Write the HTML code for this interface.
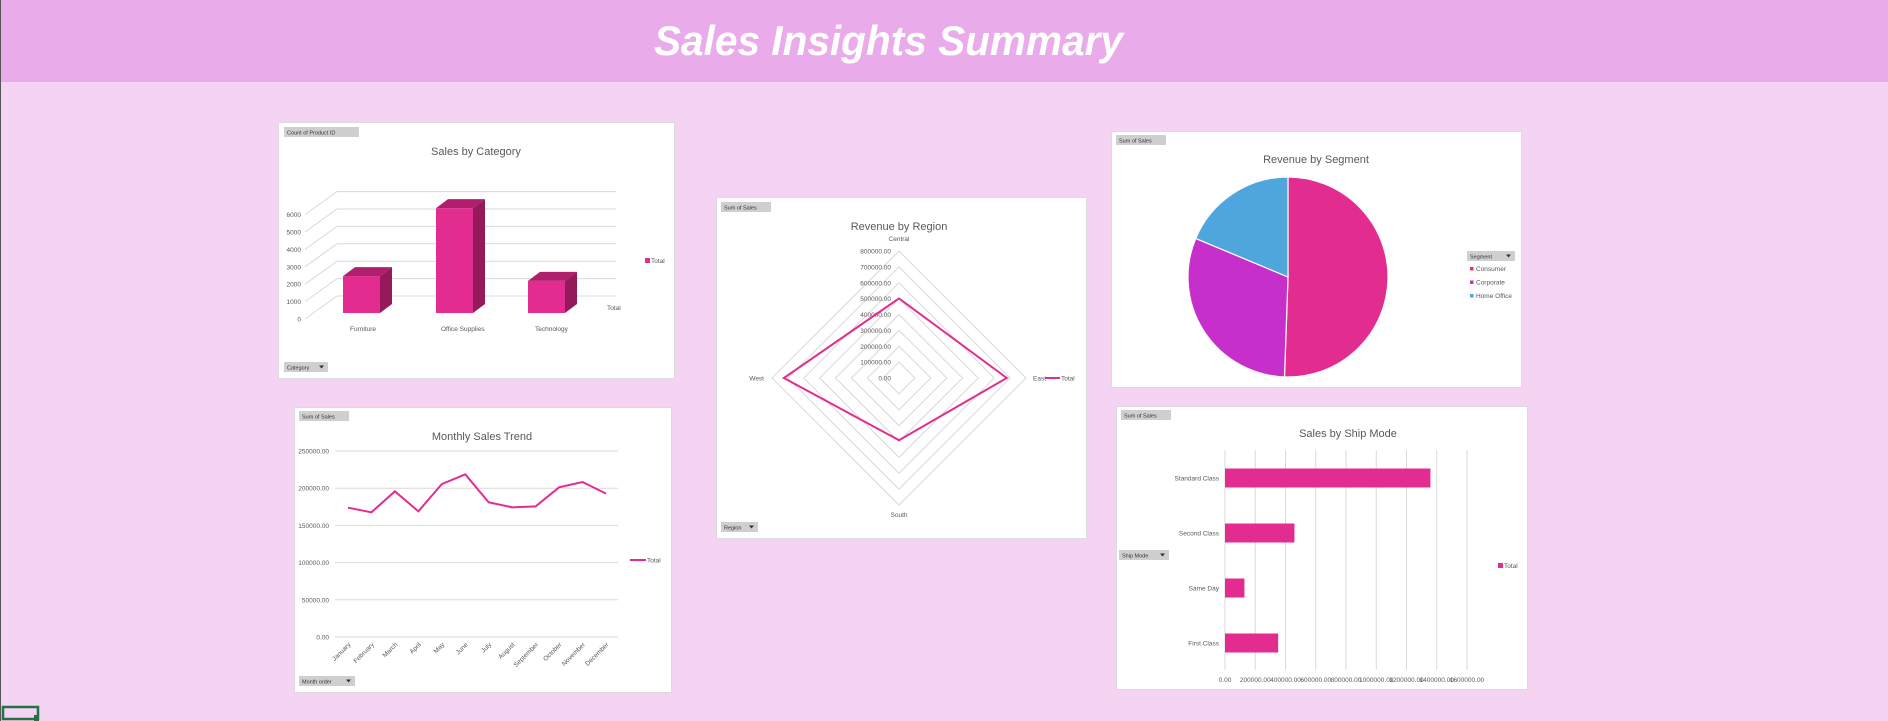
<!DOCTYPE html>
<html><head><meta charset="utf-8"><style>
html,body{margin:0;padding:0;width:1888px;height:721px;overflow:hidden;background:#f4d3f3;font-family:"Liberation Sans",sans-serif}
svg{display:block}
text{font-family:"Liberation Sans",sans-serif}
</style></head><body>
<svg id="s" width="1888" height="721" xmlns="http://www.w3.org/2000/svg">
<rect x="0" y="0" width="1888" height="721" fill="#f4d3f3"/>
<rect x="0" y="0" width="1888" height="82" fill="#e9abe9"/>
<line x1="0.5" y1="0" x2="0.5" y2="721" stroke="#555" stroke-width="1"/>
<text x="654" y="55" font-size="42" font-weight="bold" font-style="italic" fill="#fff" textLength="469" lengthAdjust="spacingAndGlyphs">Sales Insights Summary</text>
<rect x="3" y="707" width="35" height="12" fill="none" stroke="#217346" stroke-width="2.5"/>
<rect x="34" y="715" width="5" height="6" fill="#217346"/>
<g id="g"></g>
</svg>
<script>
// ---- data ----
const catNames = ["Furniture","Office Supplies","Technology"];
const catCounts = [2121, 6026, 1847];
const catTicks = [0,1000,2000,3000,4000,5000,6000];
const regionNames = ["Central","East","South","West"];
const regionSales = [501240, 678781, 391722, 725458];
const regionTicks = [0,100000,200000,300000,400000,500000,600000,700000,800000];
const segNames = ["Consumer","Corporate","Home Office"];
const segSales = [1161401, 706146, 429653];
const months = ["January","February","March","April","May","June","July","August","September","October","November","December"];
const monthSales = [173800,167600,195800,168900,205600,218600,181000,174300,175600,201200,208300,192700];
const monthTicks = [0,50000,100000,150000,200000,250000];
const shipNames = ["Standard Class","Second Class","Same Day","First Class"];
const shipSales = [1358215, 459193, 128363, 351428];
const shipTicks = [0,200000,400000,600000,800000,1000000,1200000,1400000,1600000];

const NS="http://www.w3.org/2000/svg";
const G=document.getElementById('g');
function mk(tag,attrs,parent,txt){const e=document.createElementNS(NS,tag);for(const k in attrs)e.setAttribute(k,attrs[k]);if(txt!==undefined)e.textContent=txt;(parent||G).appendChild(e);return e;}
const PINK="#e32c8f", TXT="#595959", GRID="#d9d9d9";
function panel(x,y,w,h,name){const r=mk('rect',{x:x+.5,y:y+.5,width:w,height:h,fill:'#fff',stroke:'#dcdcdc'});

}
function btn(x,y,w,label,name,drop){const g=mk('g',{});


mk('rect',{x:x,y:y,width:w,height:10,fill:'#cfcfcf'},g);
mk('text',{x:x+3,y:y+7.5,'font-size':5.5,fill:'#333'},g,label);
if(drop)mk('path',{d:`M${x+w-9} ${y+3.5}h5l-2.5 3z`,fill:'#333'},g);}
function title(x,y,t,name){const e=mk('text',{x:x,y:y,'font-size':11,'text-anchor':'middle',fill:TXT},G,t);

}
function lbl(x,y,t,anchor,size,name){const e=mk('text',{x:x,y:y,'font-size':size||6.5,'text-anchor':anchor||'start',fill:TXT},G,t);

return e;}

// ---- Chart 1: Sales by Category (3D columns) ----
panel(278,122,396,256,'category-chart-panel');
btn(284,127,75,'Count of Product ID','count-of-product-id-button',false);
btn(284,362,44,'Category','category-filter-button',true);
title(476,155,'Sales by Category','category-chart-title');
{
  const y0=319, per=17.4/1000, dx=32, dy=-23;
  const yv=v=>y0-v*per;
  catTicks.forEach(t=>{const yy=yv(t);
    const l=mk('path',{d:`M305 ${yy}L${305+dx} ${yy+dy}H616`,stroke:GRID,fill:'none','stroke-width':1});
    
    
    lbl(301,yy+2.5,String(t),'end',6.5,'category-y-tick');});
  const xs=[343,436,528], bw=37, bx=12, by=-9, base=313;
  catCounts.forEach((v,i)=>{const h=v*per, x=xs[i], top=base-h;
    const g=mk('g',{});
    
    
    mk('rect',{x:x,y:top,width:bw,height:h,fill:PINK},g);
    mk('path',{d:`M${x} ${top}l${bx} ${by}h${bw}l${-bx} ${-by}z`,fill:'#b01f6e'},g);
    mk('path',{d:`M${x+bw} ${top}l${bx} ${by}v${h}l${-bx} ${-by}z`,fill:'#941a5c'},g);
    lbl(x+7-(i==1?2:0),331,catNames[i],'start',6.5,'category-x-label');});
  lbl(607,310,'Total','start',6.5,'category-series-label');
  const s=mk('rect',{x:645,y:258,width:5,height:5,fill:PINK});
  
  
  lbl(651,263,'Total','start',6.5,'category-legend-label');
}

// ---- Chart 2: Revenue by Region (radar) ----
panel(716,197,370,341,'region-chart-panel');
btn(721,202,50,'Sum of Sales','sum-of-sales-button',false);
btn(721,522,37,'Region','region-filter-button',true);
title(899,230,'Revenue by Region','region-chart-title');
{
  const cx=899, cy=378, R=127, max=800000;
  const ang=[ -90, 0, 90, 180 ];
  const pt=(v,i)=>{const r=v/max*R, a=ang[i]*Math.PI/180;return [cx+r*Math.cos(a), cy+r*Math.sin(a)];};
  regionTicks.forEach(t=>{if(t===0)return;
    const p=regionNames.map((_,i)=>pt(t,i).join(',')).join(' ');
    const e=mk('polygon',{points:p,fill:'none',stroke:GRID,'stroke-width':1});
    
    });
  regionTicks.forEach(t=>{lbl(891,cy-t/max*R+2.5,t.toFixed(2),'end',6.5,'region-axis-tick');});
  const pts=regionSales.map((v,i)=>pt(v,i).join(',')).join(' ');
  const e=mk('polygon',{points:pts,fill:'none',stroke:PINK,'stroke-width':2});
  
  
  lbl(cx,cy-R-10,regionNames[0],'middle',6.5,'region-label-central');
  lbl(cx+R+7,cy+2.5,regionNames[1],'start',6.5,'region-label-east');
  lbl(cx,cy+R+12,regionNames[2],'middle',6.5,'region-label-south');
  lbl(cx-R-8,cy+2.5,regionNames[3],'end',6.5,'region-label-west');
  const l=mk('line',{x1:1045,y1:378,x2:1060,y2:378,stroke:PINK,'stroke-width':2});
  
  
  lbl(1061,380.5,'Total','start',6.5,'region-legend-label');
}

// ---- Chart 3: Revenue by Segment (pie) ----
panel(1111,131,410,256,'segment-chart-panel');
btn(1116,135,50,'Sum of Sales','sum-of-sales-button',false);
title(1316,163,'Revenue by Segment','segment-chart-title');
{
  const cx=1288, cy=277, r=100, cols=[PINK,'#c62fca','#4ea6dc'];
  const tot=segSales.reduce((a,b)=>a+b,0); let a0=0;
  segSales.forEach((v,i)=>{const a1=a0+v/tot*2*Math.PI;
    const p=a=>[cx+r*Math.sin(a), cy-r*Math.cos(a)];
    const [x0,y0]=p(a0),[x1,y1]=p(a1);
    const e=mk('path',{d:`M${cx} ${cy}L${x0} ${y0}A${r} ${r} 0 ${a1-a0>Math.PI?1:0} 1 ${x1} ${y1}Z`,fill:cols[i],stroke:'#fff','stroke-width':1.2});
    
    
    a0=a1;});
  btn(1467,251,48,'Segment','segment-filter-button',true);
  segNames.forEach((n,i)=>{const s=mk('rect',{x:1470,y:267+i*13.5,width:3.5,height:3.5,fill:cols[i]});
    
    
    lbl(1476,271+i*13.5,n,'start',6.5,'segment-legend-label');});
}

// ---- Chart 4: Monthly Sales Trend ----
panel(294,407,377,285,'monthly-chart-panel');
btn(299,411,50,'Sum of Sales','sum-of-sales-button',false);
btn(299,676,56,'Month order','month-order-filter-button',true);
title(482,440,'Monthly Sales Trend','monthly-chart-title');
{
  const y0=637, y1=451, vmax=250000, xa=348, step=(606-348)/11;
  const yv=v=>y0-(v/vmax)*(y0-y1), xv=i=>xa+i*step;
  monthTicks.forEach(t=>{const e=mk('line',{x1:335,y1:yv(t),x2:618,y2:yv(t),stroke:GRID,'stroke-width':1});
    
    
    lbl(329,yv(t)+2.5,t.toFixed(2),'end',6.5,'monthly-y-tick');});
  const e=mk('polyline',{points:monthSales.map((v,i)=>xv(i)+','+yv(v)).join(' '),fill:'none',stroke:PINK,'stroke-width':2});
  
  
  months.forEach((m,i)=>{const x=xv(i)+3,y=645;
    const t=lbl(x,y,m,'end',6.5,'month-label'); t.setAttribute('transform',`rotate(-45 ${x} ${y})`);});
  const l=mk('line',{x1:630,y1:560,x2:646,y2:560,stroke:PINK,'stroke-width':2});
  
  
  lbl(647,562.5,'Total','start',6.5,'monthly-legend-label');
}

// ---- Chart 5: Sales by Ship Mode ----
panel(1116,406,411,283,'shipmode-chart-panel');
btn(1121,410,50,'Sum of Sales','sum-of-sales-button',false);
btn(1119,550,50,'Ship Mode','ship-mode-filter-button',true);
title(1348,437,'Sales by Ship Mode','shipmode-chart-title');
{
  const x0=1225, per=30.25/200000, xv=v=>x0+v*per;
  const yc=[478,533,588,643], bh=19;
  shipTicks.forEach(t=>{const e=mk('line',{x1:xv(t),y1:450,x2:xv(t),y2:670,stroke:GRID,'stroke-width':1});
    
    
    lbl(xv(t),682,t.toFixed(2),'middle',6.5,'ship-x-tick');});
  shipSales.forEach((v,i)=>{const e=mk('rect',{x:x0,y:yc[i]-bh/2,width:v*per,height:bh,fill:PINK});
    
    
    lbl(1219,yc[i]+2.5,shipNames[i],'end',6.5,'ship-category-label');});
  const s=mk('rect',{x:1498,y:563,width:5,height:5,fill:PINK});
  
  
  lbl(1504,568,'Total','start',6.5,'ship-legend-label');
}
</script>
</body></html>
